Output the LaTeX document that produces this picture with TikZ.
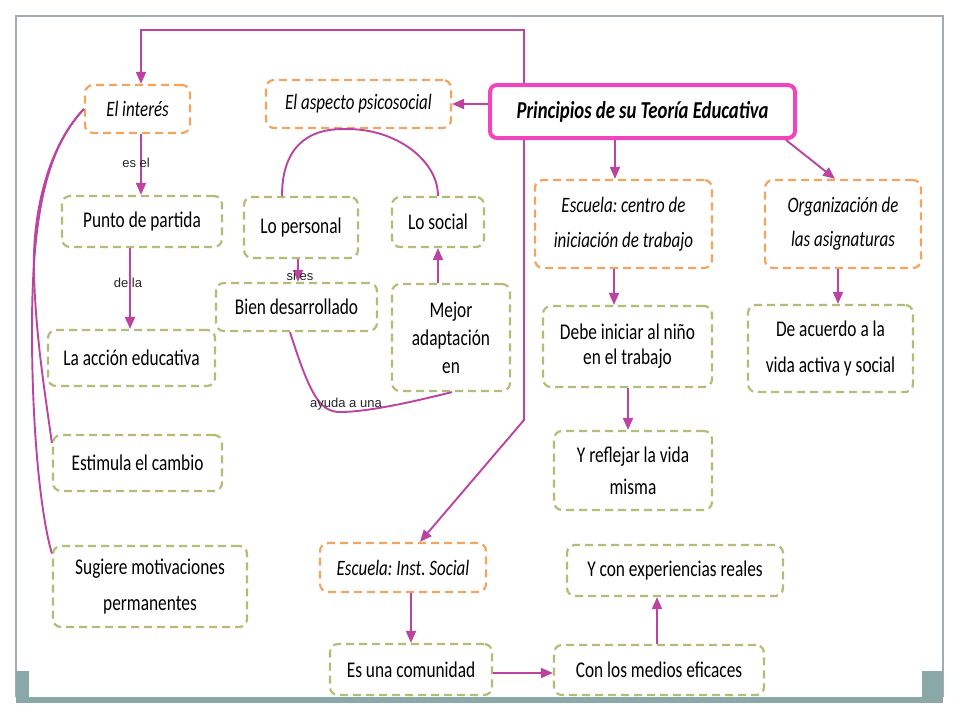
\documentclass[tikz,border=0pt]{standalone}
\usepackage{fontspec}
\setmainfont{Carlito}[FakeStretch=0.77]
\newfontfamily\labfont{Liberation Sans}
\frenchspacing
\usetikzlibrary{arrows.meta,calc}
\definecolor{connc}{HTML}{BC44A0}
\definecolor{orng}{HTML}{F2A55E}
\definecolor{grn}{HTML}{AEBF78}
\definecolor{pinkb}{HTML}{F045BE}
\definecolor{framec}{HTML}{A3ABB3}
\definecolor{barc}{HTML}{8BA8A9}
\begin{document}
\begin{tikzpicture}[x=1pt,y=-1pt,
  box/.style={rectangle,rounded corners=8pt,line width=2.2pt,dash pattern=on 8pt off 5pt,inner sep=0pt,align=center,fill=white,font=\fontsize{22.5}{26}\selectfont},
  obox/.style={box,draw=orng},
  gbox/.style={box,draw=grn},
  conn/.style={draw=connc,line width=1.9pt},
  arr/.style={conn,-{Triangle[length=12pt,width=10pt]}},
  lab/.style={font=\labfont\fontsize{13}{15}\selectfont,text=black!85,inner sep=0pt}
]
\useasboundingbox (0,0) rectangle (960,720);
\fill[white] (0,0) rectangle (960,720);
% frame
\draw[framec,line width=1.2pt] (16,697) -- (16,16) -- (943,16) -- (943,697);
\fill[barc] (16,697) rectangle (943,703);
\fill[barc] (16,671) rectangle (29,703);
\fill[barc] (922,671) rectangle (943,703);

% nodes
\node[obox,minimum width=105pt,minimum height=48pt,font=\fontsize{22}{26}\selectfont\itshape] (interes) at (137.5,109) {El interés};
\node[obox,minimum width=185pt,minimum height=48pt,font=\fontsize{22}{26}\selectfont\itshape] (aspecto) at (358.5,104) {El aspecto psicosocial};
\node[rectangle,rounded corners=7pt,draw=pinkb,line width=4pt,fill=white,minimum width=305pt,minimum height=53pt,inner sep=0pt,font=\fontsize{24.3}{27}\selectfont\bfseries\itshape] (princ) at (642.5,111.5) {Principios de su Teoría Educativa};

\node[gbox,minimum width=160pt,minimum height=51pt] (punto) at (142,221.5) {Punto de partida};
\node[gbox,minimum width=114pt,minimum height=61pt] (personal) at (301,227.5) {Lo personal};
\node[gbox,minimum width=92pt,minimum height=50pt] (social) at (438,222) {Lo social};
\node[gbox,minimum width=161pt,minimum height=48pt] (bien) at (296.5,307) {Bien desarrollado};
\node[gbox,minimum width=118pt,minimum height=107pt,font=\fontsize{22.5}{28}\selectfont] (mejor) at (451,337.5) {Mejor\\adaptación\\en};
\node[gbox,minimum width=167pt,minimum height=56pt] (accion) at (131.5,358) {La acción educativa};
\node[gbox,minimum width=169pt,minimum height=56pt] (estimula) at (137.5,463) {Estimula el cambio};
\node[gbox,minimum width=194pt,minimum height=81pt,font=\fontsize{22.5}{36}\selectfont] (sugiere) at (150,586.5) {Sugiere motivaciones\\permanentes};
\node[obox,minimum width=166pt,minimum height=49pt,font=\fontsize{22}{26}\selectfont\itshape] (instsoc) at (403,567.5) {Escuela: Inst. Social};
\node[gbox,minimum width=162pt,minimum height=51pt] (comunidad) at (411,669.5) {Es una comunidad};
\node[gbox,minimum width=210pt,minimum height=50pt] (medios) at (659,670) {Con los medios eficaces};
\node[gbox,minimum width=216pt,minimum height=51pt] (exper) at (675,570.5) {Y con experiencias reales};
\node[obox,minimum width=177pt,minimum height=88pt,font=\fontsize{22}{35}\selectfont\itshape] (centro) at (623.5,224) {Escuela: centro de\\iniciación de trabajo};
\node[obox,minimum width=156pt,minimum height=88pt,font=\fontsize{22}{34}\selectfont\itshape] (org) at (843,224) {Organización de\\las asignaturas};
\node[gbox,minimum width=169pt,minimum height=81pt,font=\fontsize{22.5}{25}\selectfont] (debe) at (627.5,346.5) {Debe iniciar al niño\\en el trabajo};
\node[gbox,minimum width=165pt,minimum height=87pt,font=\fontsize{22.5}{36}\selectfont] (deac) at (830.5,348.5) {De acuerdo a la\\vida activa y social};
\node[gbox,minimum width=158pt,minimum height=79pt,font=\fontsize{22.5}{32}\selectfont] (reflejar) at (633,470.5) {Y reflejar la vida\\misma};

% connectors
\coordinate (t1) at (524,30);
\coordinate (t2) at (524,420);
\coordinate (x141) at (141,0);
\coordinate (x298) at (298,0);
\coordinate (x130) at (130,0);
\coordinate (x628) at (628,0);
\coordinate (y673) at (0,673);
\draw[arr] (princ.north -| t1) -- (t1) -| ($(interes.north)+(3.5,0)$);
\draw[arr] (princ.south -| t2) -- (t2) -- ($(instsoc.north)+(17,0)$);
\draw[arr] (princ.west |- aspecto.east) -- (aspecto.east);
\draw[arr] ($(princ.south)+(-27.5,0)$) -- ($(centro.north)+(-8.5,0)$);
\draw[arr] ($(princ.south east)+(-11,0)$) -- ($(org.north)+(-8,0)$);

\draw[arr] (interes.south -| x141) -- (punto.north -| x141);
\node[lab] (l1) at (136,163) {es el};
\draw[arr] (punto.south -| x130) -- (accion.north -| x130);
\node[lab] (l2) at (128,283) {de la};
\draw[arr] (personal.south -| x298) -- (bien.north -| x298);
\node[lab] (l3) at (300,276) {si es};
\draw[arr] (social.south |- mejor.north) -- (social.south);

\draw[conn] ($(personal.north)+(-19,0)$) .. controls (282,150) and (305,128) .. ($(aspecto.south)+(-13,0)$) .. controls (395,128) and (438,160) .. (social.north);
\draw[conn] ($(bien.south)+(-6.5,0)$) .. controls (310,395) and (320,412) .. (340,412) .. controls (370,412) and (420,400) .. ($(mejor.south)+(1,0)$);
\node[lab] (l4) at (346,404) {ayuda a una};

\draw[conn] (interes.west) .. controls (45,150) and (32,220) .. (32,330) .. controls (32,440) and (42,520) .. ($(sugiere.west)+(0,-33)$);
\draw[conn] (interes.west) .. controls (45,150) and (32,220) .. (34,275) .. controls (36,340) and (46,400) .. ($(estimula.west)+(0,-20)$);

\coordinate (mx) at ($(medios.north)+(-2,0)$);
\coordinate (cx) at ($(centro.south)+(-9.5,0)$);
\coordinate (ox) at ($(org.south)+(-5,0)$);
\draw[arr] (comunidad.north |- instsoc.south) -- (comunidad.north);
\draw[arr] (comunidad.east |- y673) -- (medios.west |- y673);
\draw[arr] (mx) -- (mx |- exper.south);
\draw[arr] (cx) -- (cx |- debe.north);
\draw[arr] (debe.south -| x628) -- (reflejar.north -| x628);
\draw[arr] (ox) -- (ox |- deac.north);
\end{tikzpicture}
\end{document}
